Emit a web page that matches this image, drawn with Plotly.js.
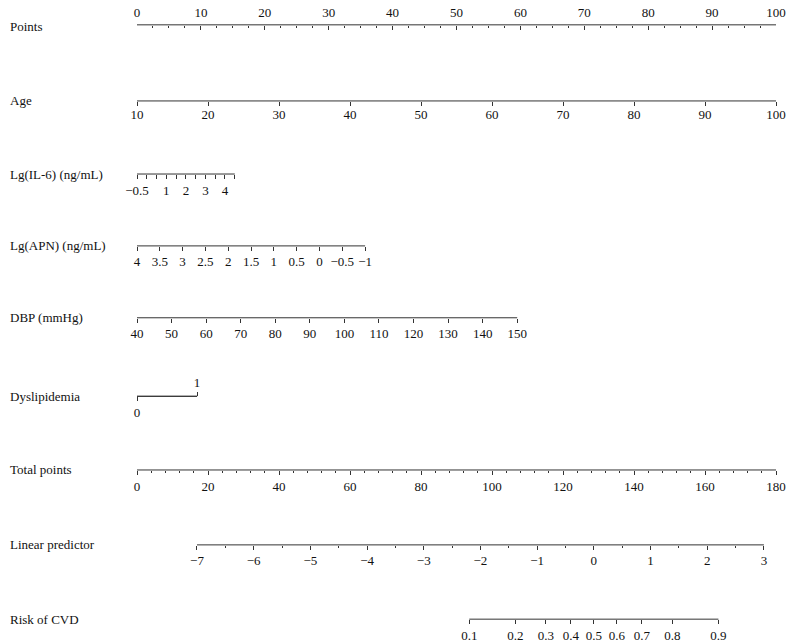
<!DOCTYPE html>
<html>
<head>
<meta charset="utf-8">
<script src="https://cdn.plot.ly/plotly-3.0.1.min.js"></script>
<style>
  html, body { margin: 0; padding: 0; background: #fff; }
  #chart { width: 793px; height: 643px; }
</style>
</head>
<body>
<div id="chart"></div>
<script>
const FONT = '"Liberation Serif", "DejaVu Serif", serif';
const LINE = '#333';

// row names, top to bottom
const rowNames = ['Points', 'Age', 'Lg(IL-6) (ng/mL)', 'Lg(APN) (ng/mL)', 'DBP (mmHg)',
  'Dyslipidemia', 'Total points', 'Linear predictor', 'Risk of CVD'];

// points scale
const pointsTicks = [0, 10, 20, 30, 40, 50, 60, 70, 80, 90, 100];

// each predictor: first value (0 points), last value and the points it gets
const ageTicks = [10, 20, 30, 40, 50, 60, 70, 80, 90, 100];
const ageMaxPoints = 100;

const il6Ticks = [-0.5, 0, 0.5, 1, 1.5, 2, 2.5, 3, 3.5, 4, 4.5];
const il6Labels = ['\u22120.5', '', '', '1', '', '2', '', '3', '', '4', ''];
const il6MaxPoints = 15.3;

const apnTicks = [4, 3.5, 3, 2.5, 2, 1.5, 1, 0.5, 0, -0.5, -1];
const apnLabels = ['4', '3.5', '3', '2.5', '2', '1.5', '1', '0.5', '0', '\u22120.5', '\u22121'];
const apnMaxPoints = 35.7;

const dbpTicks = [40, 50, 60, 70, 80, 90, 100, 110, 120, 130, 140, 150];
const dbpMaxPoints = 59.5;

const dysTicks = [0, 1];
const dysMaxPoints = 9.4;

// total points and linear predictor
const totalTicks = [0, 20, 40, 60, 80, 100, 120, 140, 160, 180];
const lpTicks = [-7, -6, -5, -4, -3, -2, -1, 0, 1, 2, 3];
const lpLabels = ['\u22127', '\u22126', '\u22125', '\u22124', '\u22123', '\u22122', '\u22121', '0', '1', '2', '3'];
const lpMinor = [-6.5, -5.5, -4.5, -3.5, -2.5, -1.5, -0.5, 0.5, 1.5, 2.5];
const totalAtLpFirst = 16.9;   // total points where lp = -7
const totalAtLpLast = 176.6;   // total points where lp = 3

// risk
const riskTicks = [0.1, 0.2, 0.3, 0.4, 0.5, 0.6, 0.7, 0.8, 0.9];

// ---- layout helpers ----
// vertical position of each row inside the plot area (0 = bottom, 1 = top)
const rowPos = [0.992, 0.866, 0.745, 0.626, 0.507, 0.377, 0.255, 0.131, 0.008];

// axis range so that first value sits at 0 points and last at maxPoints
function scaleRange(first, last, maxPoints) {
  const span = (last - first) * 100 / maxPoints;
  return [first, first + span];
}

const logit = p => Math.log(p / (1 - p));

const totalMax = totalTicks[totalTicks.length - 1];
const lpPerTotal = (lpTicks[lpTicks.length - 1] - lpTicks[0]) / (totalAtLpLast - totalAtLpFirst);
const lpRange = [lpTicks[0] - totalAtLpFirst * lpPerTotal,
                 lpTicks[0] + (totalMax - totalAtLpFirst) * lpPerTotal];

const baseAxis = {
  anchor: 'free', showgrid: false, zeroline: false, showline: false,
  tickmode: 'array', ticks: 'outside', ticklen: 4, tickwidth: 1, tickcolor: LINE,
  tickfont: { family: FONT, size: 13, color: '#111' }, fixedrange: true,
};

function axis(opts) {
  return Object.assign({}, baseAxis, { overlaying: 'x' }, opts);
}

const first = a => a[0];
const last = a => a[a.length - 1];

const rows = [
  { key: 'x', range: [0, 100], from: 0, to: 100, pos: rowPos[0] },
  { key: 'x2', range: scaleRange(first(ageTicks), last(ageTicks), ageMaxPoints), from: first(ageTicks), to: last(ageTicks), pos: rowPos[1] },
  { key: 'x3', range: scaleRange(first(il6Ticks), last(il6Ticks), il6MaxPoints), from: first(il6Ticks), to: last(il6Ticks), pos: rowPos[2] },
  { key: 'x4', range: scaleRange(first(apnTicks), last(apnTicks), apnMaxPoints), from: first(apnTicks), to: last(apnTicks), pos: rowPos[3] },
  { key: 'x5', range: scaleRange(first(dbpTicks), last(dbpTicks), dbpMaxPoints), from: first(dbpTicks), to: last(dbpTicks), pos: rowPos[4] },
  { key: 'x6', range: scaleRange(0, 1, dysMaxPoints), from: 0, to: 1, pos: rowPos[5] },
  { key: 'x7', range: scaleRange(0, 1, dysMaxPoints), from: 0, to: 1, pos: rowPos[5] },
  { key: 'x8', range: [0, totalMax], from: 0, to: totalMax, pos: rowPos[6] },
  { key: 'x9', range: lpRange, from: first(lpTicks), to: last(lpTicks), pos: rowPos[7] },
  { key: 'x10', range: lpRange, from: logit(first(riskTicks)), to: logit(last(riskTicks)), pos: rowPos[8] },
];

const data = rows.map(r => ({
  type: 'scatter', mode: 'lines', xaxis: r.key, yaxis: 'y',
  x: [r.from, r.to], y: [r.pos, r.pos],
  line: { color: LINE, width: 1 }, hoverinfo: 'skip', showlegend: false, cliponaxis: false,
}));

const layout = {
  width: 793, height: 643,
  margin: { l: 137, r: 17, t: 20, b: 19 },
  paper_bgcolor: '#fff', plot_bgcolor: '#fff',
  font: { family: FONT, size: 13, color: '#111' },
  showlegend: false,
  yaxis: { range: [0, 1], visible: false, fixedrange: true },
  xaxis: Object.assign({}, baseAxis, {
    range: rows[0].range, position: rows[0].pos, side: 'top', ticks: 'inside',
    ticklabelstandoff: 5,
    tickvals: pointsTicks, ticktext: pointsTicks.map(String),
    minor: { dtick: 2.5, ticks: 'inside', ticklen: 2.5, tickcolor: LINE },
  }),
  xaxis2: axis({ range: rows[1].range, position: rows[1].pos, side: 'bottom',
    ticklabelstandoff: -3,
    tickvals: ageTicks, ticktext: ageTicks.map(String) }),
  xaxis3: axis({ range: rows[2].range, position: rows[2].pos, side: 'bottom',
    tickvals: il6Ticks, ticktext: il6Labels }),
  xaxis4: axis({ range: rows[3].range, position: rows[3].pos, side: 'bottom',
    tickvals: apnTicks, ticktext: apnLabels }),
  xaxis5: axis({ range: rows[4].range, position: rows[4].pos, side: 'bottom',
    tickvals: dbpTicks, ticktext: dbpTicks.map(String) }),
  xaxis6: axis({ range: rows[5].range, position: rows[5].pos, side: 'bottom',
    tickvals: [dysTicks[0]], ticktext: [String(dysTicks[0])] }),
  xaxis7: axis({ range: rows[6].range, position: rows[6].pos, side: 'top',
    tickvals: [dysTicks[1]], ticktext: [String(dysTicks[1])] }),
  xaxis8: axis({ range: rows[7].range, position: rows[7].pos, side: 'bottom',
    tickvals: totalTicks, ticktext: totalTicks.map(String),
    minor: { dtick: 4, ticks: 'outside', ticklen: 2.5, tickcolor: LINE } }),
  xaxis9: axis({ range: rows[8].range, position: rows[8].pos, side: 'bottom',
    tickvals: lpTicks, ticktext: lpLabels,
    minor: { tickmode: 'array', tickvals: lpMinor, ticks: 'outside', ticklen: 2.5, tickcolor: LINE } }),
  xaxis10: axis({ range: rows[9].range, position: rows[9].pos, side: 'bottom',
    tickvals: riskTicks.map(logit), ticktext: riskTicks.map(String) }),
  annotations: rowNames.map((name, i) => ({
    text: name, xref: 'paper', yref: 'paper', x: -129 / 639, y: rowPos[i],
    yshift: i === 0 ? -2 : 0,
    xanchor: 'left', yanchor: 'middle', showarrow: false,
    font: { family: FONT, size: 13, color: '#111' },
  })),
};

Plotly.newPlot('chart', data, layout, { displayModeBar: false, staticPlot: true });
</script>
</body>
</html>
